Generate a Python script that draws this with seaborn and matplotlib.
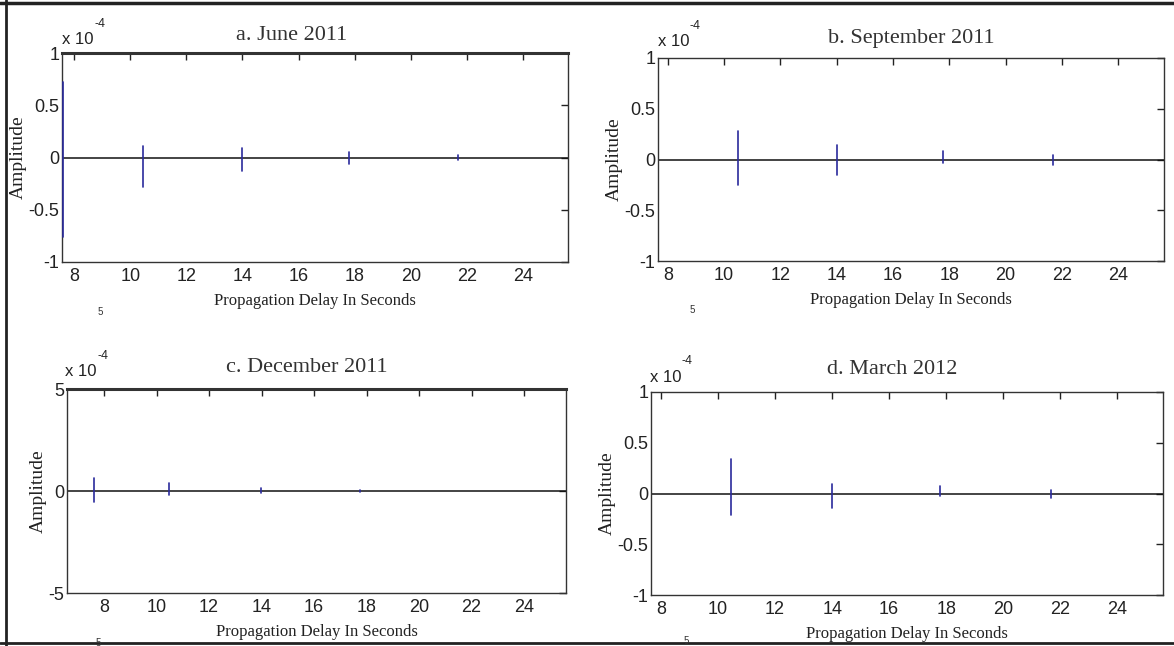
import numpy as np
import pandas as pd
import matplotlib
matplotlib.use("Agg")
import matplotlib.pyplot as plt
from matplotlib.lines import Line2D
import seaborn as sns

# ---- data (amplitudes in units of 1e-4) ----
titles = ["a. June 2011", "b. September 2011", "c. December 2011", "d. March 2012"]
spike_delay_a = [7.60, 10.47, 14.00, 17.78, 21.68]
spike_max_a = [0.72, 0.11, 0.09, 0.05, 0.02]
spike_min_a = [-0.76, -0.28, -0.13, -0.06, -0.02]

spike_delay_b = [10.50, 14.00, 17.78, 21.68]
spike_max_b = [0.28, 0.14, 0.08, 0.04]
spike_min_b = [-0.25, -0.15, -0.03, -0.05]

spike_delay_c = [7.62, 10.48, 13.98, 17.75, 21.65]
spike_max_c = [0.64, 0.38, 0.13, 0.03, 0.02]
spike_min_c = [-0.55, -0.20, -0.10, -0.03, -0.02]

spike_delay_d = [10.47, 14.00, 17.78, 21.68]
spike_max_d = [0.34, 0.09, 0.07, 0.03]
spike_min_d = [-0.21, -0.14, -0.02, -0.04]

x_ticks = [8, 10, 12, 14, 16, 18, 20, 22, 24]
y_ticks_small = [-1, -0.5, 0, 0.5, 1]
y_ticks_c = [-5, 0, 5]

sns.set_theme(style="white")
plt.rcParams["font.family"] = ["Liberation Sans", "DejaVu Sans"]

W, H = 1174, 646
fig = plt.figure(figsize=(W / 100, H / 100), dpi=100)

def px(x0, y0, x1, y1):
    return [x0 / W, 1 - y1 / H, (x1 - x0) / W, (y1 - y0) / H]

panels = [
    dict(rect=px(62, 53, 568, 262), xlim=(7.57, 25.6), ylim=(-1, 1), yt=y_ticks_small,
         d=spike_delay_a, mx=spike_max_a, mn=spike_min_a, thick_top=True),
    dict(rect=px(658, 58, 1164, 261), xlim=(7.65, 25.63), ylim=(-1, 1), yt=y_ticks_small,
         d=spike_delay_b, mx=spike_max_b, mn=spike_min_b, thick_top=False),
    dict(rect=px(67, 389, 566, 593), xlim=(6.59, 25.6), ylim=(-5, 5), yt=y_ticks_c,
         d=spike_delay_c, mx=spike_max_c, mn=spike_min_c, thick_top=True),
    dict(rect=px(651, 392, 1163, 595), xlim=(7.65, 25.6), ylim=(-1, 1), yt=y_ticks_small,
         d=spike_delay_d, mx=spike_max_d, mn=spike_min_d, thick_top=False),
]

serif = ["Liberation Serif", "DejaVu Serif"]
spike_color = "#2a2a9c"

for i, p in enumerate(panels):
    ax = fig.add_axes(p["rect"])
    rows = []
    for k, (dx, hi, lo) in enumerate(zip(p["d"], p["mx"], p["mn"])):
        rows.append(dict(delay=dx, amp=lo, spike=k))
        rows.append(dict(delay=dx, amp=hi, spike=k))
    df = pd.DataFrame(rows)
    ax.axhline(0, color="#111111", lw=1.1, zorder=1)
    sns.lineplot(data=df, x="delay", y="amp", units="spike", estimator=None, sort=False,
                 color=spike_color, lw=1.2, ax=ax, legend=False, zorder=3)
    ax.set_xlim(*p["xlim"])
    ax.set_ylim(*p["ylim"])
    ax.set_xticks(x_ticks)
    ax.set_yticks(p["yt"])
    ax.set_xticklabels([str(t) for t in x_ticks])
    ax.set_yticklabels([("%g" % t) for t in p["yt"]])
    ax.tick_params(direction="in", length=5, width=1, top=True, right=True,
                   labelsize=13, colors="#222222", pad=4)
    ax.tick_params(axis="y", pad=2)
    for s in ax.spines.values():
        s.set_color("#333333")
        s.set_linewidth(1.0)
    if p["thick_top"]:
        ax.spines["top"].set_linewidth(2.2)
    ax.set_xlabel("Propagation Delay In Seconds", family=serif, fontsize=12, color="#222222", labelpad=6)
    ax.set_ylabel("Amplitude", family=serif, fontsize=14, color="#222222", labelpad=1)
    ax.set_facecolor("white")

# titles and exponent labels (figure pixel positions)
title_pos = [(292, 35), (911, 39), (307, 368), (892, 370)]
for t, (x, y) in zip(titles, title_pos):
    fig.text(x / W, 1 - y / H, t, family=serif, fontsize=16, color="#333333", ha="center", va="center")

exp_pos = [(62, 40), (658, 42), (65, 372), (650, 377)]
for (x, y) in exp_pos:
    fig.text(x / W, 1 - y / H, "x 10", fontsize=12, color="#222222", ha="left", va="center")
    fig.text((x + 32) / W, 1 - (y - 16) / H, "-4", fontsize=9, color="#222222", ha="left", va="center")

stray_pos = [(100, 312), (692, 310), (98, 643), (686, 641)]
for (x, y) in stray_pos:
    fig.text(x / W, 1 - y / H, "5", fontsize=7, color="#333333", ha="center", va="center")

# outer frame lines
fig.add_artist(Line2D([0, 1], [1 - 3 / H, 1 - 3 / H], color="#222222", lw=2.5))
fig.add_artist(Line2D([6 / W, 6 / W], [0, 1], color="#222222", lw=2.0))
fig.add_artist(Line2D([0, 1], [1 - 643 / H, 1 - 643 / H], color="#222222", lw=2.0))

fig.savefig("out.png", dpi=100, facecolor="white")
